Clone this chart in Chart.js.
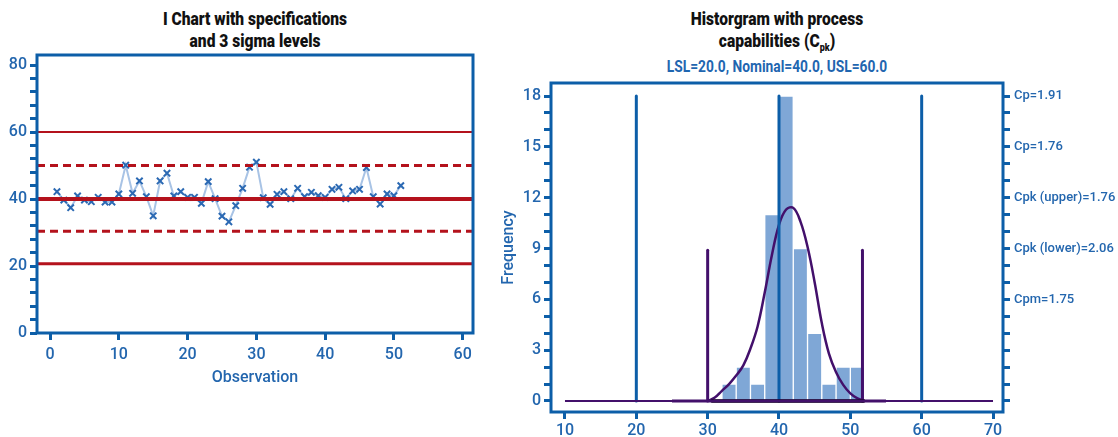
<!DOCTYPE html>
<html>
<head>
<title>I chart and capability histogram</title>
<style>
  body { margin: 0; background: #fff; width: 1118px; height: 437px; position: relative; overflow: hidden;
         font-family: Roboto, 'Liberation Sans', sans-serif; }
  canvas { position: absolute; top: 0; }
  .title { position: absolute; text-align: center; font-weight: 900; color: #111; font-size: 19px; line-height: 22px;
           transform: scaleX(0.82); transform-origin: center; }
  .title sub { font-size: 11px; vertical-align: -4px; line-height: 0; }
  .sub { position: absolute; text-align: center; font-weight: bold; color: #1f66b0; font-size: 16px;
         transform: scaleX(0.86); transform-origin: center; }
</style>
</head>
<body>
<div class="title" style="left:105px; width:300px; top:8px;">I Chart with specifications<br>and 3 sigma levels</div>
<div class="title" style="left:627px; width:300px; top:8px;">Historgram with process<br>capabilities (C<sub>pk</sub>)</div>
<div class="sub" style="left:627px; width:300px; top:57px;">LSL=20.0, Nominal=40.0, USL=60.0</div>
<canvas id="ichart" width="490" height="437" style="left:0"></canvas>
<canvas id="hist" width="628" height="437" style="left:490px"></canvas>
<script src="https://cdn.jsdelivr.net/npm/chart.js@4.4.0/dist/chart.umd.min.js"></script>
<script>
// ---- I chart data ----
const IND_VALUES = [42.2, 39.7, 37.4, 40.9, 39.7, 39.2, 40.5, 39.1, 39.1, 41.5,
                    50.1, 41.7, 45.4, 40.7, 35.0, 45.4, 47.7, 40.9, 42.2, 40.5,
                    40.5, 38.7, 45.2, 40.1, 34.9, 33.2, 38.0, 43.2, 49.5, 51.0,
                    40.4, 38.4, 41.4, 42.2, 40.1, 43.2, 40.7, 42.0, 41.0, 40.5,
                    42.9, 43.5, 40.1, 42.4, 42.9, 49.4, 40.7, 38.5, 41.5, 41.0, 44.0];
const SPEC_LINES = [60, 40, 20.7];      // USL, nominal, LSL as drawn
const SIGMA_LINES = [50, 30.4];         // +/- 3 sigma
const I_X_TICKS = [0, 10, 20, 30, 40, 50, 60];
const I_Y_TICKS = [0, 4, 8, 12, 16, 20, 24, 28, 32, 36, 40, 44, 48, 52, 56, 60, 64, 68, 72, 76, 80];

// ---- histogram data ----
const BIN_CENTERS = [33, 35, 37, 39, 41, 43, 45, 47, 49, 51];
const BIN_COUNTS = [1, 2, 1, 11, 18, 9, 4, 1, 2, 2];
const SPEC_X = [20, 40, 60];
const LIMIT_X = [30, 51.7];
const CURVE_X = [30, 31, 32, 33, 34, 35, 36, 37, 38, 39, 40, 41, 42, 43, 44, 45, 46, 47, 48, 49, 50, 51, 52];
const CURVE_Y = [0, 0.2, 0.6, 1.0, 1.5, 2.1, 3.1, 4.4, 6.4, 8.6, 10.4, 11.3, 11.4, 10.6, 9.1, 7.0, 4.6, 2.8, 1.7, 0.95, 0.45, 0.15, 0];
const H_X_TICKS = [10, 20, 30, 40, 50, 60, 70];
const H_Y_TICKS = [0, 1, 2, 3, 4, 5, 6, 7, 8, 9, 10, 11, 12, 13, 14, 15, 16, 17, 18];
const CAP_LABELS = {18: 'Cp=1.91', 15: 'Cp=1.76', 12: 'Cpk (upper)=1.76', 9: 'Cpk (lower)=2.06', 6: 'Cpm=1.75'};

const BLUE = '#0c5ea8';
const LABEL_BLUE = '#2366ae';
const RED = '#b4121c';
const PURPLE = '#43106b';
const FONT = "Roboto, 'Liberation Sans', sans-serif";

const boxPlugin = {
    id: 'box',
    afterDraw(chart) {
        let a = chart.chartArea, ctx = chart.ctx;
        ctx.save();
        ctx.strokeStyle = BLUE;
        ctx.lineWidth = 3;
        ctx.strokeRect(a.left, a.top, a.right - a.left, a.bottom - a.top);
        ctx.restore();
    }
};

function tickGrid() {
    return { display: true, drawOnChartArea: false, drawTicks: true, tickLength: 7, tickWidth: 3, tickColor: BLUE };
}
function tickFont(size) {
    return { family: FONT, size: size, weight: '500' };
}
function hline(y, x0, x1, color, width, dash) {
    return { type: 'line', data: [{x: x0, y: y}, {x: x1, y: y}], borderColor: color, borderWidth: width,
             borderDash: dash || [], pointRadius: 0, fill: false };
}
function vline(x, y0, y1, color, width) {
    return { type: 'line', data: [{x: x, y: y0}, {x: x, y: y1}], borderColor: color, borderWidth: width,
             pointRadius: 0, fill: false, borderCapStyle: 'round' };
}

// ---------- I chart ----------
const IX_MIN = -1.9, IX_MAX = 61.5;
let iDatasets = [];
iDatasets.push(hline(SPEC_LINES[0], IX_MIN, IX_MAX, RED, 2));
iDatasets.push(hline(SPEC_LINES[1], IX_MIN, IX_MAX, RED, 4));
iDatasets.push(hline(SPEC_LINES[2], IX_MIN, IX_MAX, RED, 3));
for (let s of SIGMA_LINES) iDatasets.push(hline(s, IX_MIN, IX_MAX, RED, 3, [8, 5]));
iDatasets.push({
    type: 'line',
    data: IND_VALUES.map((v, i) => ({x: i + 1, y: v})),
    borderColor: '#a8c3e5', borderWidth: 2,
    pointStyle: 'crossRot', pointRadius: 4.5, pointBorderColor: '#2b69b3', pointBorderWidth: 2,
    fill: false
});

new Chart(document.getElementById('ichart'), {
    type: 'scatter',
    data: { datasets: iDatasets },
    options: {
        responsive: false, animation: false,
        layout: { padding: { top: 55, right: 17, left: 0, bottom: 0 } },
        plugins: { legend: { display: false }, tooltip: { enabled: false } },
        scales: {
            x: {
                type: 'linear', min: IX_MIN, max: IX_MAX,
                afterBuildTicks: s => { s.ticks = I_X_TICKS.map(v => ({value: v})); },
                afterFit: s => { s.height = 104; },
                border: { display: false },
                grid: tickGrid(),
                ticks: { color: LABEL_BLUE, font: tickFont(16), padding: 5, maxRotation: 0, autoSkip: false },
                title: { display: true, text: 'Observation', color: LABEL_BLUE, font: tickFont(16), padding: { top: 0, bottom: 49 } }
            },
            y: {
                type: 'linear', min: 0, max: 83,
                afterBuildTicks: s => { s.ticks = I_Y_TICKS.map(v => ({value: v})); },
                afterFit: s => { s.width = 37; },
                border: { display: false },
                grid: tickGrid(),
                ticks: { color: LABEL_BLUE, font: tickFont(16), padding: 3, autoSkip: false,
                         callback: v => (v % 20 === 0 ? v : '') }
            }
        }
    },
    plugins: [boxPlugin]
});

// ---------- histogram ----------
let hDatasets = [];
hDatasets.push({
    type: 'bar',
    data: BIN_CENTERS.map((x, i) => ({x: x, y: BIN_COUNTS[i]})),
    backgroundColor: '#7fa7d6', borderColor: '#ffffff', borderWidth: 1,
    barPercentage: 1, categoryPercentage: 1, grouped: false, order: 10
});
hDatasets.push(hline(0, 10, 70, PURPLE, 2));
hDatasets.push(hline(0, 25, 55, PURPLE, 3));
hDatasets.push(hline(0, 30.5, 52, '#000000', 3.5));
for (let x of SPEC_X) hDatasets.push(vline(x, 0, 18, BLUE, 3));
for (let x of LIMIT_X) hDatasets.push(vline(x, 0, 8.9, PURPLE, 3));
hDatasets.push({
    type: 'line',
    data: CURVE_X.map((x, i) => ({x: x, y: CURVE_Y[i]})),
    borderColor: PURPLE, borderWidth: 2.5, pointRadius: 0, fill: false, tension: 0.4
});

new Chart(document.getElementById('hist'), {
    type: 'bar',
    data: { datasets: hDatasets },
    options: {
        responsive: false, animation: false,
        layout: { padding: { top: 83, right: 0, left: 0, bottom: 0 } },
        plugins: { legend: { display: false }, tooltip: { enabled: false } },
        scales: {
            x: {
                type: 'linear', min: 8.04, max: 71.4, offset: false,
                afterBuildTicks: s => { s.ticks = H_X_TICKS.map(v => ({value: v})); },
                afterFit: s => { s.height = 25; },
                border: { display: false },
                grid: Object.assign(tickGrid(), { offset: false }),
                ticks: { color: LABEL_BLUE, font: tickFont(16), padding: 2, maxRotation: 0, autoSkip: false }
            },
            y: {
                type: 'linear', min: -0.65, max: 18.77,
                afterBuildTicks: s => { s.ticks = H_Y_TICKS.map(v => ({value: v})); },
                afterFit: s => { s.width = 61; },
                border: { display: false },
                grid: tickGrid(),
                ticks: { color: LABEL_BLUE, font: tickFont(16), padding: 3, autoSkip: false,
                         callback: v => (v % 3 === 0 ? v : '') },
                title: { display: true, text: 'Frequency', color: LABEL_BLUE, font: tickFont(16), padding: { top: 9, bottom: 0 } }
            },
            y2: {
                type: 'linear', position: 'right', min: -0.65, max: 18.77,
                afterBuildTicks: s => { s.ticks = H_Y_TICKS.map(v => ({value: v})); },
                afterFit: s => { s.width = 115; },
                border: { display: false },
                grid: tickGrid(),
                ticks: { color: LABEL_BLUE, font: tickFont(13), padding: 4, autoSkip: false,
                         callback: v => CAP_LABELS[v] || '' }
            }
        }
    },
    plugins: [boxPlugin]
});
</script>
</body>
</html>
